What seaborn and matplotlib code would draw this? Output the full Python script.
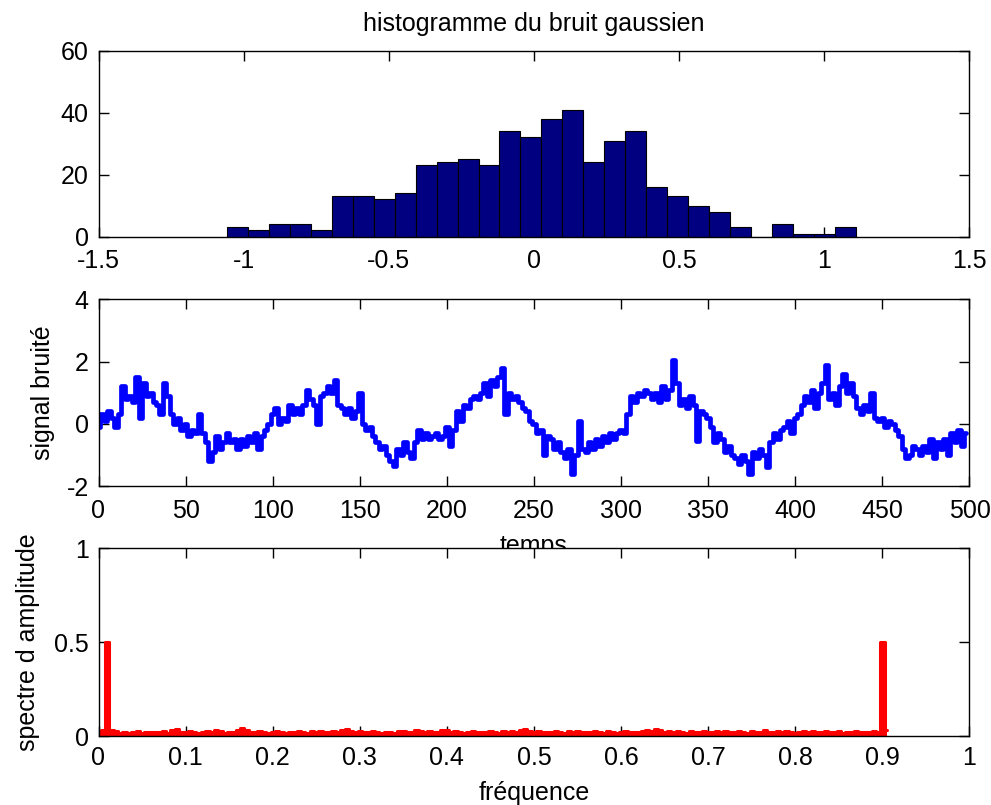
"""Histogramme du bruit, signal bruité et spectre d'amplitude (style MATLAB)."""

import matplotlib
matplotlib.use('Agg')
import matplotlib.pyplot as plt
import numpy as np
import pandas as pd
import seaborn as sns

FIG_W, FIG_H = 991, 805
FONT_SIZE = 18
NAVY = '#000080'
BLUE = '#0000FF'
RED = '#FF0000'

# --- histogramme du bruit gaussien (30 classes)
HIST_LO = -1.057
HIST_HI = 1.108
hist_counts = [3, 2, 4, 4, 2, 13, 13, 12, 14, 23, 24, 25, 23, 34, 32,
               38, 41, 24, 31, 34, 16, 13, 10, 8, 3, 0, 4, 1, 1, 3]

# --- signal bruité, un point lu tous les 2 échantillons
SIGNAL_STEP = 2
signal = [
    -0.1, 0.3, 0.1, 0.4, 0.2, -0.1, 0.3, 1.2, 0.8, 0.9,
    0.7, 1.5, 0.2, 1.3, 0.9, 1.0, 0.7, 0.6, 0.3, 1.3,
    0.9, 0.3, 0.0, 0.2, -0.2, 0.0, -0.4, -0.2, -0.3, 0.3,
    -0.3, -0.6, -1.2, -0.9, -0.4, -0.8, -0.6, -0.3, -0.6, -0.5,
    -0.8, -0.5, -0.7, -0.4, -0.6, -0.3, -0.8, -0.4, -0.2, 0.0,
    0.3, 0.5, 0.0, 0.2, 0.1, 0.6, 0.3, 0.5, 0.3, 0.6,
    1.1, 0.8, 0.6, 0.0, 0.9, 1.0, 1.2, 1.0, 1.4, 0.6,
    0.5, 0.3, 0.5, 0.2, 0.4, 1.0, 0.0, -0.2, -0.1, -0.4,
    -0.6, -0.8, -0.7, -1.0, -1.2, -1.35, -0.8, -1.0, -0.6, -0.9,
    -1.1, -0.6, -0.2, -0.5, -0.3, -0.5, -0.4, -0.3, -0.5, -0.4,
    -0.1, -0.7, -0.2, 0.4, 0.1, 0.6, 0.5, 0.8, 0.9, 0.8,
    1.0, 1.3, 0.9, 1.4, 1.2, 1.5, 1.8, 0.3, 1.0, 0.8,
    0.9, 0.7, 0.5, 0.4, 0.1, 0.0, -0.3, -0.2, -1.0, -0.4,
    -0.5, -0.8, -0.6, -0.9, -1.1, -0.8, -1.6, -1.0, 0.1, -0.8,
    -0.9, -0.6, -0.8, -0.5, -0.7, -0.4, -0.6, -0.3, -0.5, -0.3,
    -0.2, -0.3, 0.3, 0.9, 0.7, 1.0, 0.9, 1.1, 1.0, 0.8,
    1.0, 0.7, 1.2, 0.8, 1.1, 2.05, 1.3, 0.6, 0.8, 0.5,
    0.9, 0.6, -0.55, 0.4, 0.3, 0.2, -0.1, -0.6, -0.3, -0.5,
    -0.9, -0.7, -1.0, -1.1, -1.3, -1.0, -1.2, -1.6, -0.9, -1.1,
    -0.8, -1.0, -1.4, -0.6, -0.3, -0.5, -0.2, -0.1, 0.1, -0.3,
    0.2, 0.3, 0.6, 0.9, 0.7, 1.1, 0.5, 1.0, 1.3, 1.9,
    0.8, 1.0, 0.6, 1.2, 1.6, 1.0, 1.3, 0.9, 0.5, 0.3,
    0.6, 0.4, 1.0, 0.2, 0.1, 0.2, -0.1, 0.1, 0.0, -0.2,
    -0.4, -0.8, -1.1, -1.0, -0.7, -0.8, -1.0, -0.7, -0.9, -0.5,
    -1.1, -0.6, -0.8, -0.5, -1.0, -0.3, -0.6, -0.2, -0.7, -0.3,
]

# --- spectre d'amplitude, pas de 0.005 en fréquence (0 .. 0.905)
FREQ_STEP = 0.005
spectre = [
    0.02, 0.03, 0.50, 0.03,
    0.025, 0.018, 0.022, 0.015, 0.02, 0.024, 0.017, 0.021, 0.019, 0.023,
    0.02, 0.026, 0.018, 0.03, 0.036, 0.022, 0.019, 0.024, 0.02, 0.017,
    0.022, 0.028, 0.02, 0.031, 0.025, 0.018, 0.023, 0.02, 0.034, 0.042,
    0.03, 0.022, 0.019, 0.024, 0.02, 0.016, 0.021, 0.025, 0.02, 0.018,
    0.023, 0.019, 0.026, 0.021, 0.018, 0.024, 0.02, 0.028, 0.022, 0.019,
    0.025, 0.021, 0.03, 0.038, 0.026, 0.02, 0.024, 0.019, 0.022, 0.027,
    0.02, 0.018, 0.023, 0.021, 0.017, 0.024, 0.028, 0.02, 0.022, 0.031,
    0.024, 0.02, 0.026, 0.019, 0.023, 0.03, 0.034, 0.022, 0.025, 0.02,
    0.018, 0.022, 0.027, 0.02, 0.023, 0.019, 0.025, 0.021, 0.018, 0.024,
    0.02, 0.026, 0.022, 0.03, 0.036, 0.024, 0.021, 0.028, 0.02, 0.023,
    0.019, 0.025, 0.022, 0.018, 0.024, 0.02, 0.027, 0.021, 0.019, 0.023,
    0.026, 0.02, 0.018, 0.024, 0.021, 0.017, 0.022, 0.025, 0.019, 0.023,
    0.02, 0.028, 0.033, 0.024, 0.038, 0.03, 0.022, 0.025, 0.02, 0.026,
    0.021, 0.018, 0.024, 0.02, 0.023, 0.027, 0.019, 0.022, 0.025, 0.02,
    0.024, 0.019, 0.022, 0.028, 0.021, 0.018, 0.025, 0.02, 0.023, 0.03,
    0.022, 0.019, 0.024, 0.02, 0.026, 0.021, 0.018, 0.023, 0.027, 0.02,
    0.024, 0.021, 0.019, 0.025, 0.022, 0.02, 0.026, 0.018, 0.023, 0.021,
    0.025, 0.02, 0.022, 0.019, 0.024, 0.02,
    0.50, 0.03,
]

hist_ticks = [-1.5, -1, -0.5, 0, 0.5, 1, 1.5]
hist_tick_labels = ['-1.5', '-1', '-0.5', '0', '0.5', '1', '1.5']
freq_ticks = [0, 0.1, 0.2, 0.3, 0.4, 0.5, 0.6, 0.7, 0.8, 0.9, 1]
freq_tick_labels = ['0', '0.1', '0.2', '0.3', '0.4', '0.5', '0.6', '0.7', '0.8', '0.9', '1']


def px_axes(fig, left, top, right, bottom):
    """Adds axes placed with pixel coordinates (origin top-left)."""
    return fig.add_axes([left / FIG_W, (FIG_H - bottom) / FIG_H,
                         (right - left) / FIG_W, (bottom - top) / FIG_H])


def matlab_look(ax, xpad):
    ax.set_facecolor('white')
    for spine in ax.spines.values():
        spine.set_visible(True)
        spine.set_color('black')
        spine.set_linewidth(1.0)
    ax.tick_params(direction='in', length=7, width=1, colors='black',
                   top=True, right=True, bottom=True, left=True,
                   labelsize=FONT_SIZE, pad=7)
    ax.tick_params(axis='x', pad=xpad)


sns.set_theme(style='white')
plt.rcParams['font.family'] = ['Liberation Sans', 'DejaVu Sans']
plt.rcParams['font.size'] = FONT_SIZE
plt.rcParams['axes.unicode_minus'] = False
plt.rcParams['text.color'] = 'black'
plt.rcParams['axes.labelcolor'] = 'black'

fig = plt.figure(figsize=(FIG_W / 100, FIG_H / 100), dpi=100)
fig.patch.set_facecolor('white')

# histogramme
ax1 = px_axes(fig, 98.5, 50.7, 969.5, 236.7)
edges = np.linspace(HIST_LO, HIST_HI, len(hist_counts) + 1)
hist_df = pd.DataFrame({'bruit': (edges[:-1] + edges[1:]) / 2,
                        'effectif': hist_counts})
sns.histplot(data=hist_df, x='bruit', weights='effectif', bins=list(edges),
             color=NAVY, edgecolor='black', linewidth=0.8, alpha=1, ax=ax1)
ax1.set_xlim(-1.5, 1.5)
ax1.set_ylim(0, 60)
ax1.set_xticks(hist_ticks)
ax1.set_xticklabels(hist_tick_labels)
ax1.set_yticks([0, 20, 40, 60])
ax1.set_xlabel('')
ax1.set_ylabel('')
ax1.set_title('histogramme du bruit gaussien', fontsize=FONT_SIZE, pad=14)
matlab_look(ax1, xpad=9)

# signal bruité
ax2 = px_axes(fig, 98.5, 299.3, 969.5, 486.0)
t = np.arange(len(signal)) * SIGNAL_STEP
sns.lineplot(x=t, y=signal, color=BLUE, linewidth=3.4, drawstyle='steps-mid',
             estimator=None, ax=ax2)
ax2.set_xlim(0, 500)
ax2.set_ylim(-2, 4)
ax2.set_xticks(range(0, 501, 50))
ax2.set_yticks([-2, 0, 2, 4])
ax2.set_xlabel('temps', fontsize=FONT_SIZE, labelpad=8)
ax2.set_ylabel('signal bruité', fontsize=FONT_SIZE, labelpad=8)
matlab_look(ax2, xpad=9)

# spectre d'amplitude (au-dessus, masque le bas de "temps")
ax3 = px_axes(fig, 98.5, 548.0, 969.5, 736.0)
ax3.set_zorder(2)
f = np.arange(len(spectre)) * FREQ_STEP
ax3.fill_between(f, 0, spectre, step='mid', color=RED, linewidth=0)
sns.lineplot(x=f, y=spectre, color=RED, linewidth=2.2,
             drawstyle='steps-mid', estimator=None, ax=ax3)
ax3.set_xlim(0, 1)
ax3.set_ylim(0, 1)
ax3.set_xticks(freq_ticks)
ax3.set_xticklabels(freq_tick_labels)
ax3.set_yticks([0, 0.5, 1])
ax3.set_yticklabels(['0', '0.5', '1'])
ax3.set_xlabel('fréquence', fontsize=FONT_SIZE, labelpad=8)
ax3.set_ylabel('spectre d amplitude', fontsize=FONT_SIZE, labelpad=10)
matlab_look(ax3, xpad=7)

fig.savefig('out.png', dpi=100, facecolor='white')
